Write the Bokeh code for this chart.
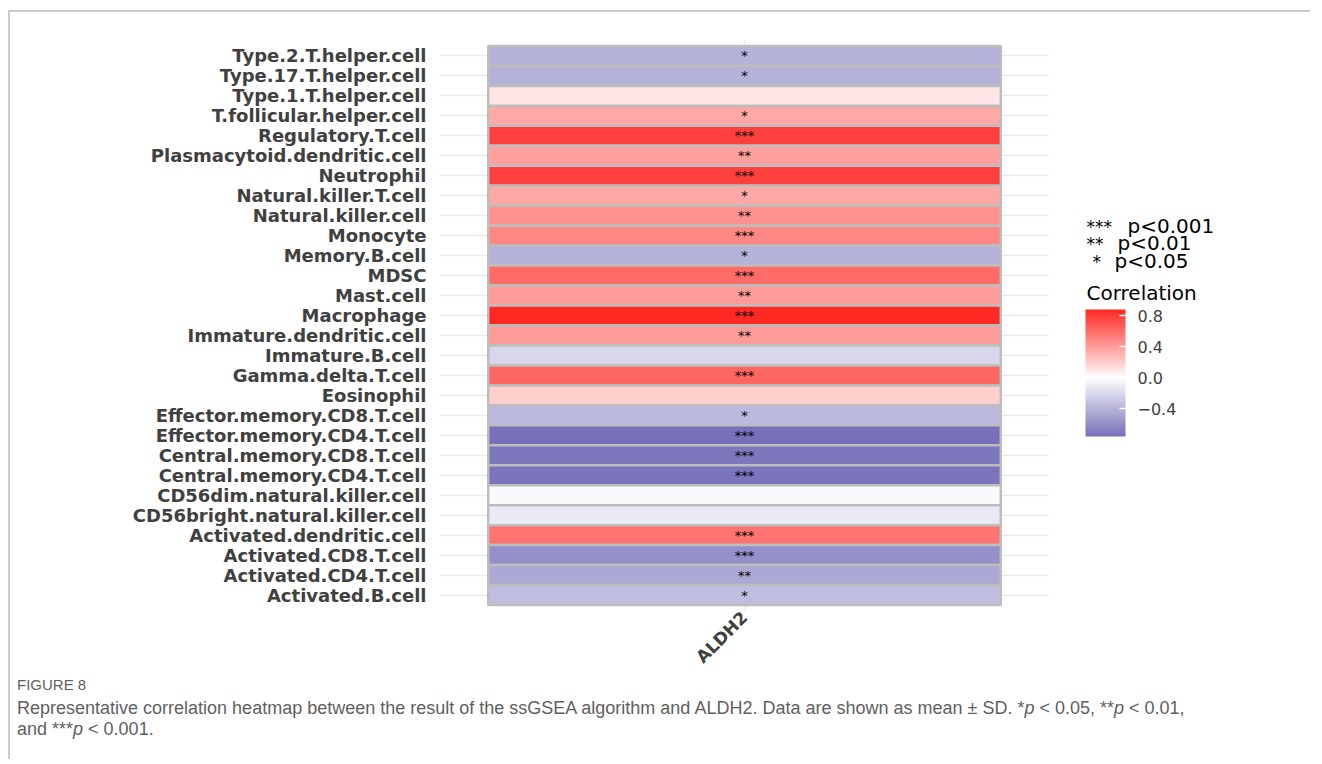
import math
from bokeh.plotting import figure
from bokeh.models import (FactorRange, Range1d, ColumnDataSource, LinearColorMapper,
                          ColorBar, FixedTicker, CustomJSTickFormatter, Div, AllLabels)
from bokeh.layouts import row, column
from bokeh.embed import file_html
from bokeh.resources import INLINE
from bokeh.core.properties import value

# ---------------- data ----------------
cells = [
    "Type.2.T.helper.cell", "Type.17.T.helper.cell", "Type.1.T.helper.cell",
    "T.follicular.helper.cell", "Regulatory.T.cell", "Plasmacytoid.dendritic.cell",
    "Neutrophil", "Natural.killer.T.cell", "Natural.killer.cell", "Monocyte",
    "Memory.B.cell", "MDSC", "Mast.cell", "Macrophage", "Immature.dendritic.cell",
    "Immature.B.cell", "Gamma.delta.T.cell", "Eosinophil",
    "Effector.memory.CD8.T.cell", "Effector.memory.CD4.T.cell",
    "Central.memory.CD8.T.cell", "Central.memory.CD4.T.cell",
    "CD56dim.natural.killer.cell", "CD56bright.natural.killer.cell",
    "Activated.dendritic.cell", "Activated.CD8.T.cell", "Activated.CD4.T.cell",
    "Activated.B.cell",
]
correlation = [
    -0.41, -0.41, 0.10,
    0.36, 0.78, 0.39,
    0.78, 0.36, 0.45, 0.49,
    -0.41, 0.61, 0.41, 0.88, 0.41,
    -0.22, 0.63, 0.20,
    -0.37, -0.76,
    -0.72, -0.74,
    -0.03, -0.115,
    0.57, -0.59, -0.46,
    -0.35,
]
significance = [
    "*", "*", "",
    "*", "***", "**",
    "***", "*", "**", "***",
    "*", "***", "**", "***", "**",
    "", "***", "",
    "*", "***",
    "***", "***",
    "", "",
    "***", "***", "**",
    "*",
]
gene = "ALDH2"
legend_stars = ["***", "**", "*"]
legend_labels = ["p<0.001", "p<0.01", "p<0.05"]
colorbar_ticks = [0.8, 0.4, 0.0, -0.4]

# ---------------- colour scale ----------------
LOW_RGB = (117, 112, 185)
MID_RGB = (255, 255, 255)
HIGH_RGB = (255, 40, 35)
vmin, vmax = min(correlation), max(correlation)


def colour_at(v):
    if v < 0:
        t = min(1.0, v / vmin)
        a, b = MID_RGB, LOW_RGB
    else:
        t = min(1.0, v / vmax)
        a, b = MID_RGB, HIGH_RGB
    r, g, bb = (round(a[i] + (b[i] - a[i]) * t) for i in range(3))
    return "#%02x%02x%02x" % (r, g, bb)


N = 256
palette = [colour_at(vmin + (i + 0.5) * (vmax - vmin) / N) for i in range(N)]
mapper = LinearColorMapper(palette=palette, low=vmin, high=vmax)

H = 665
# page rows spanned by the (aligned) plot frames
FRAME_TOP, FRAME_BOTTOM = 40, 611

# ---------------- main heatmap ----------------
src = ColumnDataSource(dict(
    x=[gene] * len(cells), cell=cells, r=correlation, sig=significance))

p = figure(width=1059, height=H,
           x_range=FactorRange(factors=[gene], range_padding=0.19),
           y_range=FactorRange(factors=cells[::-1], range_padding=0.0232),
           output_backend="svg", toolbar_location=None,
           min_border_left=429, min_border_right=20,
           min_border_top=27, min_border_bottom=60)
p.outline_line_color = None
p.background_fill_color = "white"

p.rect(x="x", y="cell", width=1, height=1, source=src,
       fill_color={"field": "r", "transform": mapper},
       line_color="#bdbdbd", line_width=2.5)
p.text(x="x", y="cell", text="sig", source=src,
       text_align="center", text_baseline="middle",
       text_font=value("DejaVu Sans"), text_font_size="13px",
       text_color="black")

for g in (p.xgrid, p.ygrid):
    g.grid_line_color = "#ebebeb"
    g.grid_line_width = 1.5

for ax in (p.xaxis, p.yaxis):
    ax.axis_line_color = None
    ax.major_tick_line_color = None
    ax.major_tick_out = 0
    ax.major_tick_in = 0
    ax.major_label_text_font = "DejaVu Sans"
    ax.major_label_text_font_style = "bold"
    ax.major_label_text_color = "#404040"
p.yaxis.major_label_text_font_size = "18px"
p.xaxis.major_label_text_font_size = "17px"
p.yaxis.major_label_standoff = 13
p.xaxis.major_label_standoff = 3
p.xaxis.major_label_orientation = math.pi / 4

# ---------------- legend panel ----------------
p2 = figure(width=240, height=H, x_range=Range1d(0, 240),
            y_range=Range1d(FRAME_BOTTOM, FRAME_TOP),
            output_backend="svg", toolbar_location=None,
            x_axis_location=None, y_axis_location=None,
            min_border_left=0, min_border_right=0,
            min_border_top=27, min_border_bottom=60)
p2.outline_line_color = None
p2.xgrid.visible = False
p2.ygrid.visible = False

row_y = [226, 243, 261]
p2.text(x=[17, 17, 23], y=[y + 1 for y in row_y], text=legend_stars,
        text_align="left", text_baseline="middle",
        text_font=value("DejaVu Sans"), text_font_size="17px", text_color="black")
p2.text(x=[58, 48, 45], y=row_y, text=legend_labels,
        text_align="left", text_baseline="middle",
        text_font=value("DejaVu Sans"), text_font_size="20px", text_color="black")
p2.text(x=[17], y=[293], text=["Correlation"],
        text_align="left", text_baseline="middle",
        text_font=value("DejaVu Sans"), text_font_size="20px", text_color="black")

cb = ColorBar(color_mapper=mapper, location=(16, FRAME_BOTTOM - 436), width=40, height=127,
              padding=0, orientation="vertical",
              ticker=FixedTicker(ticks=colorbar_ticks),
              formatter=CustomJSTickFormatter(code="return tick.toFixed(1).replace('-', '\u2212');"),
              major_label_policy=AllLabels(),
              major_label_text_font="DejaVu Sans", major_label_text_font_size="16px",
              major_label_text_color="#404040",
              major_tick_line_color="white", major_tick_line_width=1.5,
              major_tick_in=6, major_tick_out=0, label_standoff=12,
              bar_line_color=None, border_line_color=None,
              background_fill_alpha=0)
p2.add_layout(cb)

# ---------------- caption ----------------
caption = Div(width=1290, height=72, text=(
    "<div style=\"font-family:'Liberation Sans',sans-serif;color:#5f5f5f;padding-left:2px\">"
    "<div style='font-size:15px;line-height:18px;margin-top:-6px'>FIGURE 8</div>"
    "<div style='font-size:18px;line-height:21px;margin-top:4px;white-space:nowrap'>"
    "Representative correlation heatmap between the result of the ssGSEA algorithm and ALDH2. "
    "Data are shown as mean \u00b1 SD. *<i>p</i> &lt; 0.05, **<i>p</i> &lt; 0.01,<br>"
    "and ***<i>p</i> &lt; 0.001.</div></div>"))

layout = column(row(p, p2), caption, margin=(10, 0, 0, 8),
                styles={"border-top": "2px solid #cccccc",
                        "border-left": "2px solid #cccccc"})

open("out.html", "w").write(file_html(layout, INLINE))
